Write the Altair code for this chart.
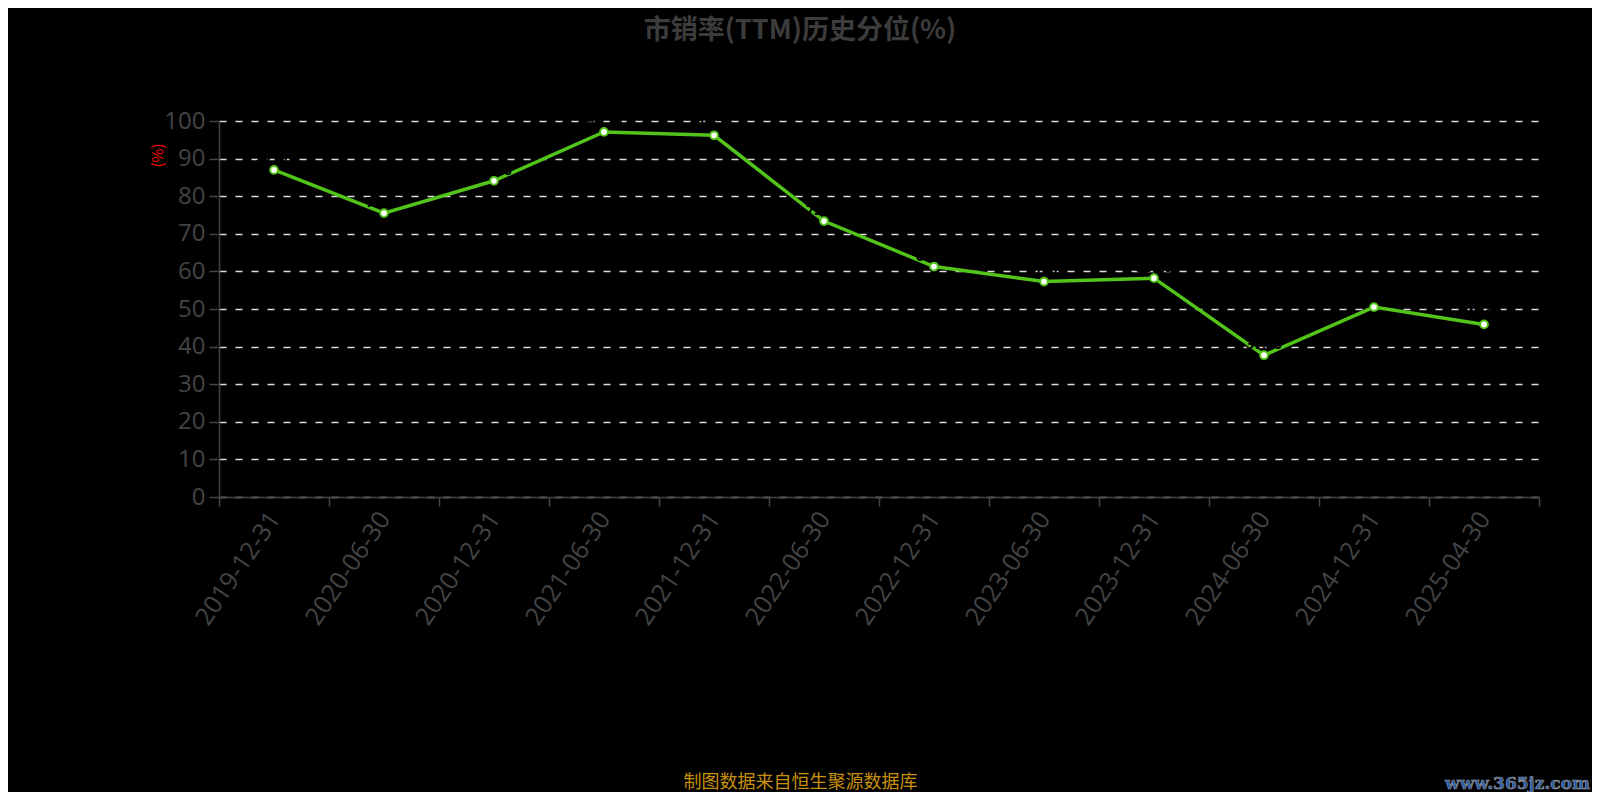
import altair as alt
import pandas as pd

dates = ["2019-12-31", "2020-06-30", "2020-12-31", "2021-06-30", "2021-12-31", "2022-06-30",
         "2022-12-31", "2023-06-30", "2023-12-31", "2024-06-30", "2024-12-31", "2025-04-30"]
values = [87.0, 75.5, 84.1, 97.1, 96.2, 73.4, 61.3, 57.3, 58.2, 37.7, 50.5, 45.9]

df = pd.DataFrame({"date": dates, "value": values})

GREEN = "#52C41A"
AXIS_GRAY = "#444444"

x_enc = alt.X(
    "date:N", sort=dates,
    scale=alt.Scale(paddingInner=0, paddingOuter=0),
    axis=alt.Axis(
        title="制图数据来自恒生聚源数据库",
        titleColor="#C8900E", titleFontSize=18, titleFontWeight="normal",
        titleFont="Noto Sans CJK SC", titleX=581, titleY=285,
        titleAlign="center", titleBaseline="middle",
        labelAngle=-56, labelAlign="right", labelBaseline="middle",
        labelFontSize=25, labelColor=AXIS_GRAY, labelFont="Open Sans",
        labelPadding=8, tickSize=9, tickColor=AXIS_GRAY, tickWidth=1.5,
        tickBand="extent", domainColor=AXIS_GRAY, domainWidth=1.5,
        grid=False, labelOverlap=False,
    ),
)
y_enc = alt.Y(
    "value:Q",
    scale=alt.Scale(domain=[0, 100], nice=False),
    axis=alt.Axis(
        title="(%)", titleColor="#FF0000", titleFontSize=15, titleFontWeight="normal",
        titleFont="Noto Sans CJK SC", titleX=-62, titleY=34, titleAngle=270,
        titleAlign="center", titleBaseline="middle",
        values=list(range(0, 101, 10)),
        labelFontSize=24, labelColor=AXIS_GRAY, labelFont="Open Sans",
        labelPadding=4, tickSize=10, tickColor=AXIS_GRAY, tickWidth=1.5,
        domainColor=AXIS_GRAY, domainWidth=1.5,
        grid=True, gridColor="#DDDDDD", gridDash=[7, 9], gridWidth=1.5,
    ),
)

base = alt.Chart(df).encode(x=x_enc, y=y_enc)

line = base.mark_line(color=GREEN, strokeWidth=3.5)
points = base.mark_point(shape="circle", filled=True, fill="white", stroke=GREEN,
                         strokeWidth=2, size=60, opacity=1)
labels = base.mark_text(color="black", fontSize=14, fontWeight="bold", dy=-10,
                        font="Open Sans").encode(text=alt.Text("value:Q", format=".2f"))

watermark = alt.Chart(pd.DataFrame({"t": ["www.365jz.com"]})).mark_text(
    align="right", baseline="middle", fontSize=17, fontWeight="bold",
    font="DejaVu Serif", color="#2A5CAA", stroke="#9A9A9A", strokeWidth=0.6,
).encode(text="t:N", x=alt.value(1371), y=alt.value(663))

chart = alt.layer(line, points, labels, watermark).properties(
    width=1320, height=376,
    title=alt.Title("市销率(TTM)历史分位(%)", fontSize=27, fontWeight="bold",
                    color="#3C3C3C", font="Noto Sans CJK SC", anchor="middle",
                    frame="group", dx=-79, offset=64),
    background="black",
    padding={"left": 211, "top": 113, "right": 53, "bottom": 295},
    autosize=alt.AutoSizeParams(type="none"),
).configure_view(stroke=None)

chart.save("out.html", embed_options={"renderer": "svg", "actions": False})
